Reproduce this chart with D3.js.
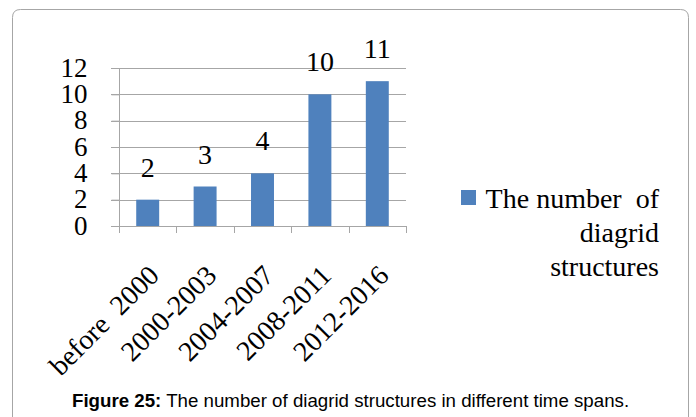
<!DOCTYPE html>
<html><head><meta charset="utf-8">
<script src="https://cdn.jsdelivr.net/npm/d3@7"></script>
<style>body{margin:0;background:#fff}svg{display:block}</style>
</head><body>
<svg id="c" width="696" height="417"></svg>
<script>
const categories = ["before  2000", "2000-2003", "2004-2007", "2008-2011", "2012-2016"];
const values = [2, 3, 4, 10, 11];
const yTicks = [0, 2, 4, 6, 8, 10, 12];
const legendLines = ["The number  of", "diagrid", "structures"];
const captionBold = "Figure 25:";
const captionText = " The number of diagrid structures in different time spans.";

const svg = d3.select("#c");
const serif = "'Liberation Serif','Times New Roman',serif";

// frame
svg.append("path")
  .attr("d", "M12.5,430 L12.5,17.5 Q12.5,9.5 20.5,9.5 L680.5,9.5 Q688.5,9.5 688.5,17.5 L688.5,430")
  .attr("fill", "none").attr("stroke", "#a6a6a6").attr("stroke-width", 1);

const x = d3.scaleBand().domain(categories).range([119, 406]).paddingInner(0).paddingOuter(0);
const y = d3.scaleLinear().domain([0, 12]).range([226, 68]);

// gridlines
svg.append("g").selectAll("line").data(yTicks.filter(d => d > 0)).join("line")
  .attr("x1", 111).attr("x2", 406)
  .attr("y1", d => Math.round(y(d)) + 0.5).attr("y2", d => Math.round(y(d)) + 0.5)
  .attr("stroke", "#a6a6a6").attr("stroke-width", 1);

// y axis
const yAxis = svg.append("g").attr("transform", "translate(119.5,0)")
  .call(d3.axisLeft(y).tickValues(yTicks).tickSize(8).tickPadding(24));
yAxis.select(".domain").attr("stroke", "#a6a6a6").attr("d", `M0,${y(12)}V${y(0)}`);
yAxis.selectAll(".tick line").attr("stroke", "#a6a6a6");
yAxis.selectAll(".tick text").attr("font-family", serif).attr("font-size", 27).attr("fill", "#000")
  .attr("x", -32).attr("dy", "0.3em");

// x axis
const xAxis = svg.append("g").attr("transform", `translate(0,${Math.round(y(0)) + 0.5})`)
  .call(d3.axisBottom(x).tickSize(0).tickFormat(""));
xAxis.select(".domain").attr("stroke", "#a6a6a6").attr("d", "M111,0H406");
// category boundary ticks
svg.append("g").selectAll("line").data(d3.range(categories.length + 1)).join("line")
  .attr("x1", i => Math.round(x.range()[0] + i * x.step()) + 0.5)
  .attr("x2", i => Math.round(x.range()[0] + i * x.step()) + 0.5)
  .attr("y1", Math.round(y(0))).attr("y2", Math.round(y(0)) + 7)
  .attr("stroke", "#a6a6a6");

// bars
const bw = x.bandwidth() * 0.4;
svg.append("g").selectAll("rect").data(values).join("rect")
  .attr("x", (d, i) => x(categories[i]) + (x.bandwidth() - bw) / 2)
  .attr("y", d => y(d))
  .attr("width", bw)
  .attr("height", d => y(0) - y(d))
  .attr("fill", "#4f81bd");

// data labels
svg.append("g").selectAll("text").data(values).join("text")
  .attr("x", (d, i) => x(categories[i]) + x.bandwidth() / 2)
  .attr("y", d => y(d) - 23)
  .attr("text-anchor", "middle")
  .attr("font-family", serif).attr("font-size", 28).attr("fill", "#000")
  .text(d => d);

// category labels rotated
svg.append("g").selectAll("text").data(categories).join("text")
  .attr("transform", d => `translate(${x(d) + x.bandwidth() / 2 + 13},277) rotate(-45)`)
  .attr("text-anchor", "end")
  .attr("font-family", serif).attr("font-size", 28).attr("fill", "#000")
  .style("white-space", "pre")
  .text(d => d);

// legend
svg.append("rect").attr("x", 461).attr("y", 190).attr("width", 15).attr("height", 15).attr("fill", "#4f81bd");
svg.append("g").selectAll("text").data(legendLines).join("text")
  .attr("x", 659).attr("y", (d, i) => 208 + i * 34)
  .attr("text-anchor", "end")
  .attr("font-family", serif).attr("font-size", 28).attr("fill", "#000")
  .style("white-space", "pre")
  .text(d => d);

// caption
const cap = svg.append("text").attr("x", 72).attr("y", 407)
  .attr("font-family", "'Liberation Sans',Arial,sans-serif").attr("font-size", 18.7).attr("fill", "#000");
cap.append("tspan").attr("font-weight", "bold").text(captionBold);
cap.append("tspan").style("white-space", "pre").text(captionText);
</script>
</body></html>
